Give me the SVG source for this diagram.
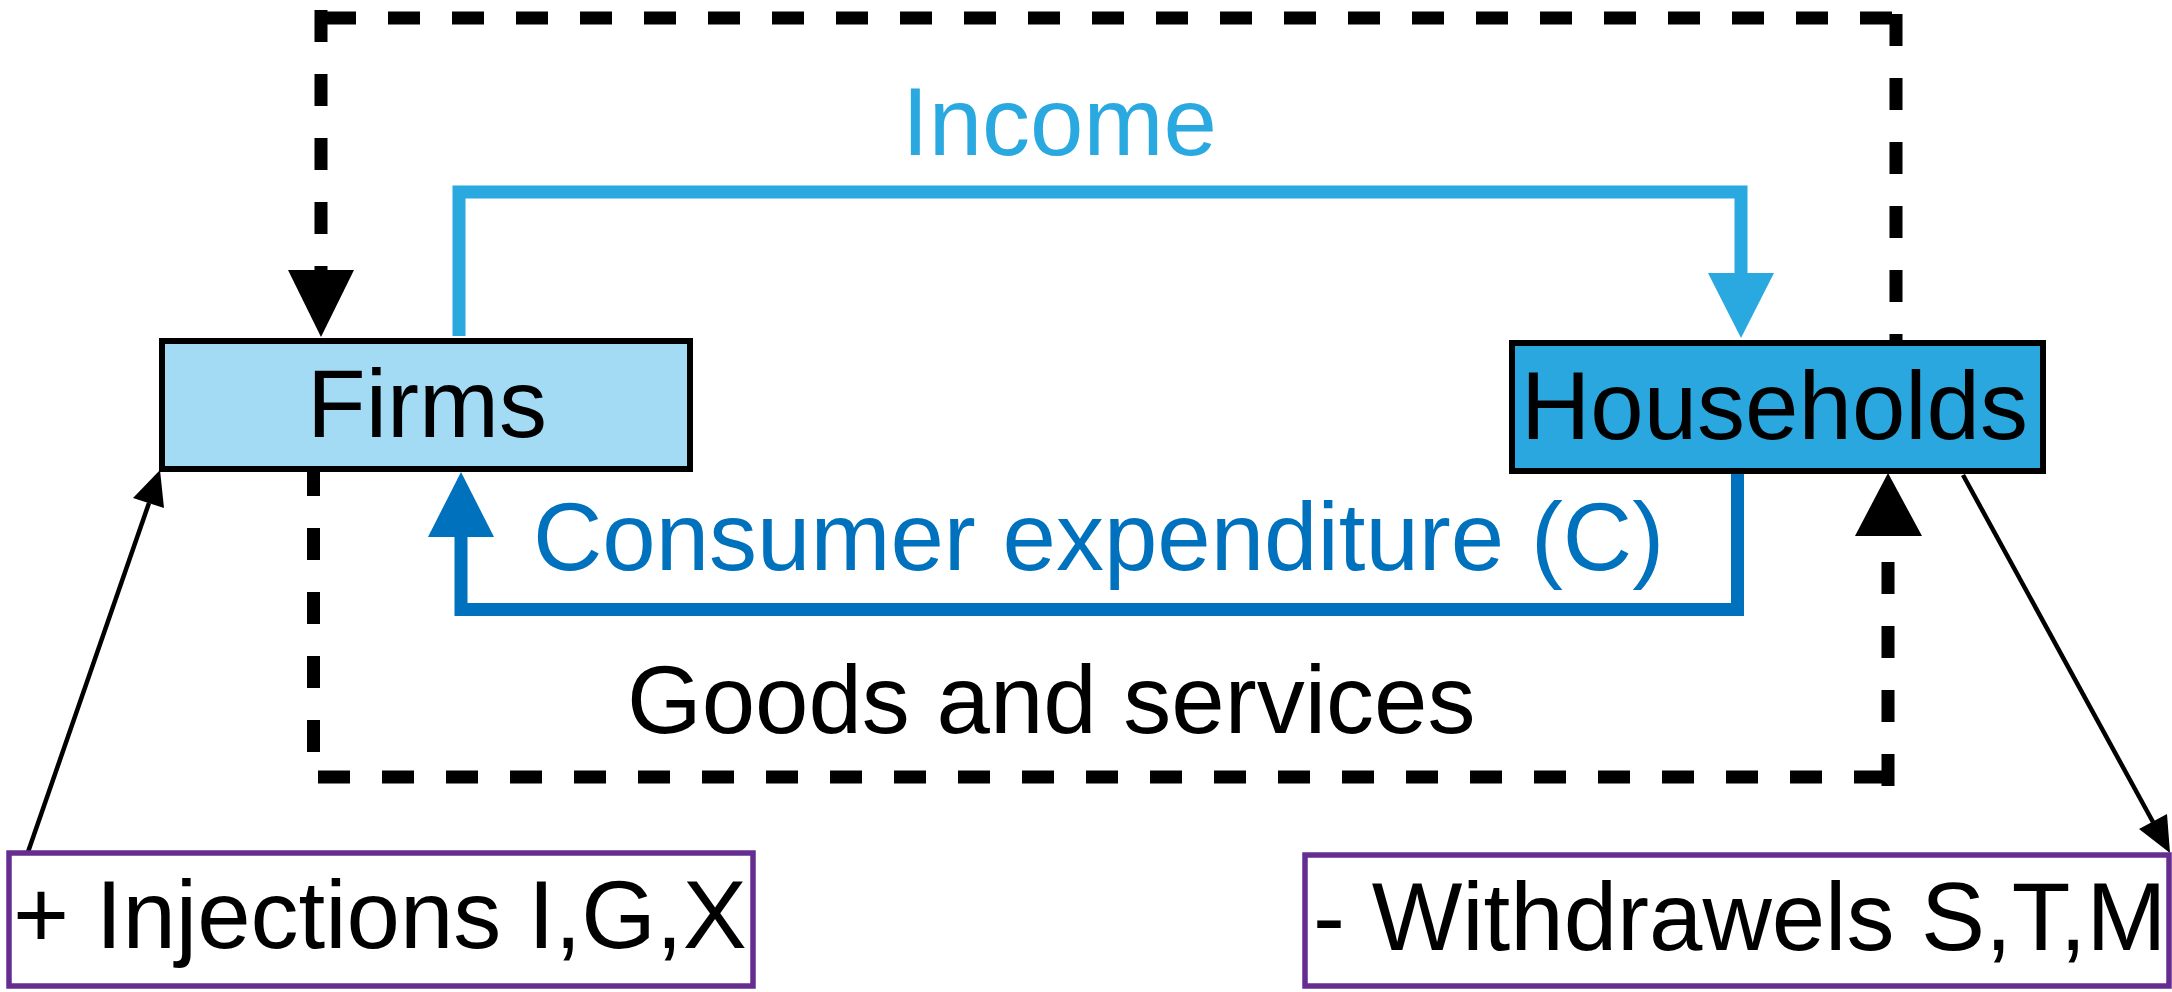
<svg xmlns="http://www.w3.org/2000/svg" width="2172" height="992" viewBox="0 0 2172 992">
<style>
.t{font-family:"Liberation Sans",Arial,sans-serif;font-size:96px;fill:#000}
.dash{fill:none;stroke:#000;stroke-width:13;stroke-dasharray:32 32}
.inc{fill:none;stroke:#2AA8E0;stroke-width:13;stroke-linejoin:miter}
.con{fill:none;stroke:#0071BC;stroke-width:13;stroke-linejoin:miter}
.thin{fill:none;stroke:#000;stroke-width:4.5}
.node{stroke:#000;stroke-width:6}
.leak{fill:#fff;stroke:#662D91;stroke-width:5.5}
</style>
<rect width="2172" height="992" fill="#fff"/>
<g id="connectors">
  <path class="dash" d="M324 18 H1896"/>
  <path class="dash" d="M321 10 V270"/>
  <path class="dash" d="M1896 14 V340"/>
  <path class="dash" d="M313.5 464 V777"/>
  <path class="dash" d="M318 777 H1888"/>
  <path class="dash" d="M1888 786 V536"/>
  <polygon points="288,270 354,270 321,337" fill="#000"/>
  <polygon points="1855,536 1922,536 1888,473" fill="#000"/>
  <path class="inc" d="M459 336 V192 H1741 V273"/>
  <polygon points="1708,273 1774,273 1741,338" fill="#2AA8E0"/>
  <path class="con" d="M1737.5 466 V609.5 H461 V537"/>
  <polygon points="428,537 494,537 461,472" fill="#0071BC"/>
  <line class="thin" x1="28" y1="852" x2="149" y2="503"/>
  <polygon points="160,470 164,508 133,498" fill="#000"/>
  <line class="thin" x1="1963" y1="475" x2="2153" y2="822"/>
  <polygon points="2170,853 2139,829 2167,814" fill="#000"/>
</g>
<g id="labels">
  <text class="t" x="902" y="155" style="fill:#2AA8E0">Income</text>
  <text class="t" x="533" y="570" style="fill:#0071BC">Consumer expenditure (C)</text>
  <text class="t" x="627" y="733">Goods and services</text>
</g>
<g id="firms">
  <rect class="node" x="162" y="341" width="528" height="128" fill="#A3DBF5"/>
  <text class="t" x="307" y="437">Firms</text>
</g>
<g id="households">
  <rect class="node" x="1512" y="343" width="531" height="128" fill="#2AA7DF"/>
  <text class="t" x="1521" y="439">Households</text>
</g>
<g id="injections">
  <rect class="leak" x="9" y="853" width="744" height="133"/>
  <text class="t" x="13" y="948">+ Injections I,G,X</text>
</g>
<g id="withdrawals">
  <rect class="leak" x="1305" y="855" width="864" height="131"/>
  <text class="t" x="1313" y="950">- Withdrawels S,T,M</text>
</g>
</svg>
